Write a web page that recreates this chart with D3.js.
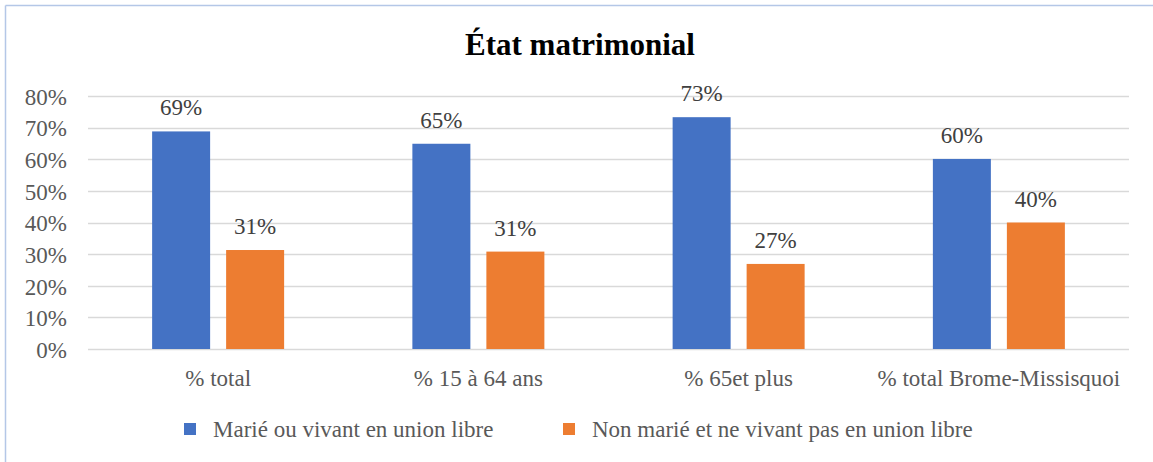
<!DOCTYPE html>
<html>
<head>
<meta charset="utf-8">
<script src="https://cdn.jsdelivr.net/npm/d3@7"></script>
<style>
  body { margin: 0; background: #fff; }
</style>
</head>
<body>
<svg id="chart" width="1153" height="462"></svg>
<script>
const FONT = "'Liberation Serif', 'Times New Roman', Times, 'DejaVu Serif', serif";
const categories = ['% total', '% 15 à 64 ans', '% 65et plus', '% total Brome-Missisquoi'];
const seriesNames = ['Marié ou vivant en union libre', 'Non marié et ne vivant pas en union libre'];
const married = [0.688, 0.649, 0.733, 0.601];
const notMarried = [0.313, 0.308, 0.269, 0.400];
const valueLabels = [['69%', '65%', '73%', '60%'], ['31%', '31%', '27%', '40%']];
const yTicks = [0, 0.1, 0.2, 0.3, 0.4, 0.5, 0.6, 0.7, 0.8];
const COLORS = ['#4472C4', '#ED7D31'];
const FS = 23;

const svg = d3.select('#chart').style('font-family', FONT);

// frame (only top + left edges visible in the crop)
svg.append('line').attr('x1', 5.5).attr('x2', 1153).attr('y1', 5.5).attr('y2', 5.5)
  .attr('stroke', '#B4C7E7').attr('stroke-width', 1.5);
svg.append('line').attr('x1', 5.5).attr('x2', 5.5).attr('y1', 5.5).attr('y2', 462)
  .attr('stroke', '#B4C7E7').attr('stroke-width', 1.5);

svg.append('text')
  .attr('x', 580).attr('y', 55)
  .attr('text-anchor', 'middle')
  .style('font-family', FONT)
  .attr('font-size', 31).attr('font-weight', 'bold').attr('fill', '#000')
  .text('État matrimonial');

const plotL = 88, plotR = 1129, plotT = 96, plotB = 349;

const x0 = d3.scaleBand().domain(categories).range([plotL, plotR]).paddingInner(0).paddingOuter(0);
const y = d3.scaleLinear().domain([0, 0.8]).range([plotB, plotT]);

// gridlines
svg.append('g').selectAll('line')
  .data(yTicks)
  .enter().append('line')
  .attr('x1', plotL).attr('x2', plotR)
  .attr('y1', d => Math.round(y(d)) + 0.5).attr('y2', d => Math.round(y(d)) + 0.5)
  .attr('stroke', '#D9D9D9').attr('stroke-width', 1.3);

// y axis labels
const yAxis = svg.append('g')
  .attr('transform', `translate(${plotL - 21},0)`)
  .call(d3.axisLeft(y).tickValues(yTicks).tickFormat(d3.format('.0%')).tickSize(0).tickPadding(0));
yAxis.select('.domain').remove();
yAxis.attr('font-family', null);
yAxis.selectAll('text')
  .style('font-family', FONT)
  .attr('font-size', FS).attr('fill', '#595959').attr('dy', '0.36em');

// bars
const barW = 58, gap = 16;
const series = [married, notMarried];
series.forEach((vals, si) => {
  const offset = si === 0 ? -(gap / 2 + barW) : gap / 2;
  const g = svg.append('g');
  g.selectAll('rect')
    .data(vals)
    .enter().append('rect')
    .attr('x', (d, i) => x0(categories[i]) + x0.bandwidth() / 2 + offset)
    .attr('y', d => y(d))
    .attr('width', barW)
    .attr('height', d => plotB - y(d))
    .attr('fill', COLORS[si]);
  g.selectAll('text')
    .data(vals)
    .enter().append('text')
    .attr('x', (d, i) => x0(categories[i]) + x0.bandwidth() / 2 + offset + barW / 2)
    .attr('y', d => y(d) - 16)
    .attr('text-anchor', 'middle')
    .style('font-family', FONT)
    .attr('font-size', FS).attr('fill', '#404040')
    .text((d, i) => valueLabels[si][i]);
});

// category labels
const xAxis = svg.append('g')
  .attr('transform', `translate(0,${plotB})`)
  .call(d3.axisBottom(x0).tickSize(0).tickPadding(0));
xAxis.select('.domain').remove();
xAxis.attr('font-family', null);
xAxis.selectAll('text')
  .style('font-family', FONT)
  .attr('font-size', FS).attr('fill', '#595959')
  .attr('dy', 0).attr('y', 37);

// legend
const legendX = [184, 563];
const legend = svg.append('g');
seriesNames.forEach((name, i) => {
  legend.append('rect')
    .attr('x', legendX[i]).attr('y', 423)
    .attr('width', 12).attr('height', 12)
    .attr('fill', COLORS[i]);
  legend.append('text')
    .attr('x', legendX[i] + 29).attr('y', 437)
    .style('font-family', FONT)
    .attr('font-size', FS).attr('fill', '#595959')
    .text(name);
});
</script>
</body>
</html>
